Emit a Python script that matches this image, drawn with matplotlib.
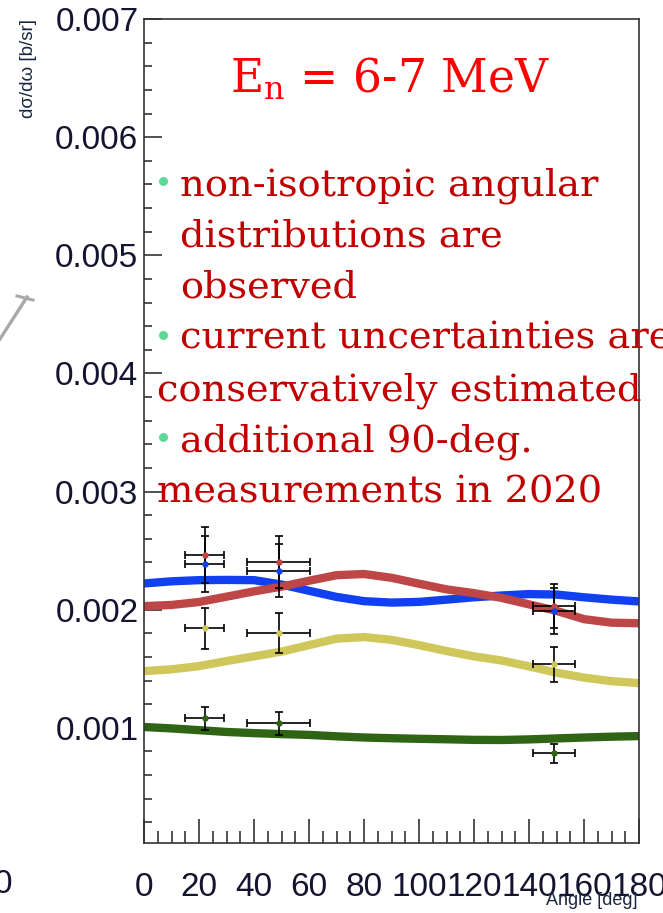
import numpy as np
import matplotlib
matplotlib.use("Agg")
import matplotlib.pyplot as plt
from matplotlib.lines import Line2D
from matplotlib.ticker import MultipleLocator, FormatStrFormatter

# ---------------- data ----------------
angles = [0, 10, 20, 30, 40, 50, 60, 70, 80, 90, 100, 110, 120, 130, 140, 150, 160, 170, 180]
blue_curve = [0.002222, 0.00224, 0.00225, 0.002252, 0.00225, 0.002213, 0.00216, 0.002108, 0.002072,
              0.00206, 0.002066, 0.002085, 0.002105, 0.00212, 0.002132, 0.002128, 0.002105, 0.002085, 0.00207]
red_curve = [0.00203, 0.00204, 0.002065, 0.00211, 0.002155, 0.002195, 0.002245, 0.002292, 0.002302,
             0.00227, 0.00222, 0.002172, 0.00214, 0.0021, 0.002045, 0.00199, 0.00192, 0.00189, 0.001885]
yellow_curve = [0.00148, 0.001495, 0.001522, 0.001565, 0.001605, 0.001645, 0.0017, 0.001755, 0.001768,
                0.001745, 0.0017, 0.00165, 0.001605, 0.00157, 0.00152, 0.001467, 0.001425, 0.001395, 0.001378]
green_curve = [0.001007, 0.000995, 0.00098, 0.000965, 0.000955, 0.000947, 0.00094, 0.000928, 0.000918,
               0.000912, 0.000907, 0.000903, 0.000898, 0.000897, 0.000902, 0.00091, 0.000918, 0.000925, 0.00093]

meas_angles = [22, 49, 149]
meas_xerr = [7.1, 11.5, 7.6]
red_pts = [0.00246, 0.00240, 0.00203]
red_err = [0.000237, 0.00022, 0.000186]
blue_pts = [0.00239, 0.00233, 0.00199]
blue_err = [0.000237, 0.000224, 0.000195]
yellow_pts = [0.001843, 0.001801, 0.001539]
yellow_err = [0.000173, 0.000169, 0.000148]
green_pts = [0.001082, 0.00104, 0.000786]
green_err = [0.0000973, 0.0000973, 0.0000804]

x_ticks = [0, 20, 40, 60, 80, 100, 120, 140, 160, 180]
title_text = "E$_\\mathrm{n}$ = 6-7 MeV"
bullet_lines = [
    ("non-isotropic angular", True),
    ("distributions are", False),
    ("observed", False),
    ("current uncertainties are", True),
    ("conservatively estimated", False),
    ("additional 90-deg.", True),
    ("measurements in 2020", False),
]
indent_flags = [True, True, True, True, False, True, False]

# ---------------- style ----------------
plt.rcParams["mathtext.fontset"] = "dejavuserif"
W, H = 663, 913
fig = plt.figure(figsize=(W / 100, H / 100), dpi=100)
ax = fig.add_axes([144 / W, 1 - 843 / H, 495 / W, 824 / H])

c_blue = "#1040F0"
c_red = "#BE4646"
c_yellow = "#CFC75A"
c_green = "#2F6415"
txt_red = "#C00000"

for curve, col in [(blue_curve, c_blue), (red_curve, c_red), (yellow_curve, c_yellow), (green_curve, c_green)]:
    ax.plot(angles, curve, color=col, lw=6, solid_capstyle="butt", solid_joinstyle="round", zorder=2)

for pts, err, col in [(red_pts, red_err, c_red), (blue_pts, blue_err, c_blue),
                      (yellow_pts, yellow_err, c_yellow), (green_pts, green_err, c_green)]:
    ax.errorbar(meas_angles, pts, yerr=err, xerr=meas_xerr, fmt="none", ecolor="black",
                elinewidth=1.2, capsize=2.6, capthick=1.2, zorder=3)
    ax.plot(meas_angles, pts, "o", color=col, ms=4.6, mec="none", zorder=4)

ax.set_xlim(0, 180)
ax.set_ylim(0.000025, 0.007)
ax.xaxis.set_major_locator(MultipleLocator(20))
ax.xaxis.set_minor_locator(MultipleLocator(5))
ax.yaxis.set_major_locator(MultipleLocator(0.001))
ax.yaxis.set_minor_locator(MultipleLocator(0.0002))
ax.yaxis.set_major_formatter(FormatStrFormatter("%.3f"))
ax.set_xticks(x_ticks)
ax.set_xticklabels([str(v) for v in x_ticks])

tick_col = "#141430"
ax.tick_params(axis="both", which="both", direction="in", color="#222222", width=1.1,
               top=False, right=False)
ax.tick_params(axis="y", which="major", length=13, pad=4, labelsize=24, labelcolor=tick_col)
ax.tick_params(axis="y", which="minor", length=6)
ax.tick_params(axis="x", which="major", length=17, pad=21, labelsize=24, labelcolor=tick_col)
ax.tick_params(axis="x", which="minor", length=8.5)
for lab in ax.get_xticklabels() + ax.get_yticklabels():
    lab.set_family("Liberation Sans")
for sp in ax.spines.values():
    sp.set_color("#333333")
    sp.set_linewidth(1.2)


def fx(x):
    return x / W


def fy(y):
    return 1 - y / H


# axis titles
fig.text(fx(29), fy(19), "d\u03c3/d\u03c9 [b/sr]", rotation=90, ha="center", va="top",
         fontsize=13.5, family="Liberation Sans", color="#1a2540")
fig.text(fx(637), fy(905), "Angle [deg]", ha="right", va="baseline",
         fontsize=13, family="Liberation Sans", color="#1a2540")

# fragments of neighbouring panel
fig.text(fx(12), fy(884), "0", ha="right", va="center", fontsize=24,
         family="Liberation Sans", color=tick_col)
fig.add_artist(Line2D([fx(0), fx(27)], [fy(339), fy(297)], color="#A8A8A8", lw=2.4,
                      transform=fig.transFigure))
fig.add_artist(Line2D([fx(17), fx(33)], [fy(296), fy(300)], color="#A8A8A8", lw=2.2,
                      transform=fig.transFigure))

# title
t = fig.text(fx(390), fy(93), title_text, ha="center", va="baseline", fontsize=36,
             family="DejaVu Serif", color="#FF0000")

# bullet texts
base0 = 195
step = 51.3
texts = []
for i, (s, bullet) in enumerate(bullet_lines):
    x0 = 180 if indent_flags[i] else 157
    tt = fig.text(fx(x0), fy(base0 + step * i), s, ha="left", va="baseline",
                  fontsize=25, family="DejaVu Serif", color=txt_red)
    texts.append(tt)
    if bullet:
        fig.add_artist(Line2D([fx(163)], [fy(base0 + step * i - 14)], marker="o", ms=6.5,
                              color="#5ED895", mec="none", transform=fig.transFigure))

# fit font sizes to measured widths
fig.canvas.draw()
r = fig.canvas.get_renderer()
wref = texts[4].get_window_extent(r).width
scale = 486 / wref
for tt in texts:
    tt.set_fontsize(25 * scale)
wt = t.get_window_extent(r).width
t.set_fontsize(36 * 320 / wt)

fig.savefig("out.png", dpi=100)
